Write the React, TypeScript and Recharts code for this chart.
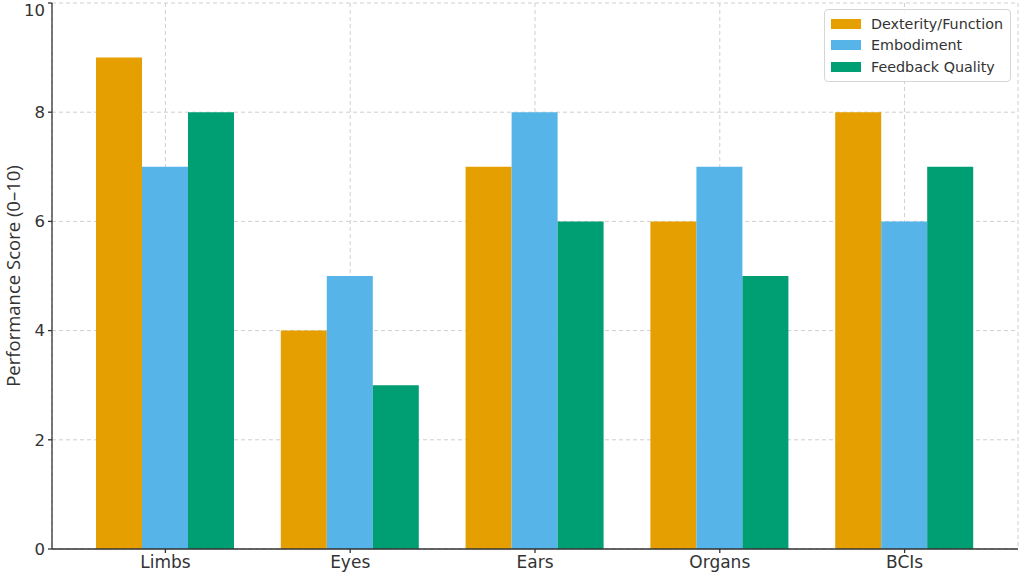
import { BarChart, Bar, XAxis, YAxis, CartesianGrid } from "recharts";

const ORANGE = "#E69F00";
const SKY    = "#56B4E9";
const GREEN  = "#009E73";
const INK    = "#333333";
const GRID   = "#cfcfcf";
const FONT   = "'DejaVu Sans', sans-serif";

const categories = ["Limbs", "Eyes", "Ears", "Organs", "BCIs"];
const dexterity   = [9, 4, 7, 6, 8];
const embodiment  = [7, 5, 8, 7, 6];
const feedback    = [8, 3, 6, 5, 7];
const yTicks      = [0, 2, 4, 6, 8, 10];

const series = [
  { key: "dexterity",  name: "Dexterity/Function", color: ORANGE },
  { key: "embodiment", name: "Embodiment",         color: SKY },
  { key: "feedback",   name: "Feedback Quality",   color: GREEN },
];

const data = categories.map((c, i) => ({
  category: c,
  dexterity: dexterity[i],
  embodiment: embodiment[i],
  feedback: feedback[i],
}));

function LegendBox() {
  return (
    <div style={{
      position: "absolute",
      left: 824,
      top: 9,
      width: 187,
      boxSizing: "border-box",
      background: "rgba(255,255,255,0.85)",
      border: "1px solid #d6d6d6",
      borderRadius: 4,
      padding: "3px 0 3px 6px",
      fontFamily: FONT,
      fontSize: 14.3,
      color: INK,
    }}>
      {series.map((s) => (
        <div key={s.key} style={{ display: "flex", alignItems: "center", height: 21.5 }}>
          <span style={{ width: 30, height: 10, background: s.color, marginRight: 10, display: "inline-block" }} />
          <span>{s.name}</span>
        </div>
      ))}
    </div>
  );
}

export default function App() {
  return (
    <div style={{ position: "absolute", left: 0, top: 0, width: 1024, height: 573, background: "#fff" }}>
      <BarChart
        width={1024}
        height={573}
        data={data}
        margin={{ top: 3, right: 6, left: 0, bottom: 0 }}
        barGap={0}
        barCategoryGap={23}
      >
        <CartesianGrid stroke={GRID} strokeDasharray="4 3" />
        <XAxis
          dataKey="category"
          padding={{ left: 21, right: 21 }}
          height={24}
          tick={{ fill: INK, fontSize: 17, fontFamily: FONT }}
          tickSize={4}
          tickMargin={3}
          stroke={INK}
          strokeWidth={1.3}
        />
        <YAxis
          domain={[0, 10]}
          ticks={yTicks}
          width={52}
          tick={{ fill: INK, fontSize: 16.5, fontFamily: FONT }}
          tickSize={4}
          tickMargin={3}
          stroke={INK}
          strokeWidth={1.3}
          label={{ value: "Performance Score (0–10)", angle: -90, position: "center", dx: -13, dy: 0, fill: INK, fontSize: 18.5, fontFamily: "'Open Sans', sans-serif" }}
        />
        {series.map((s) => (
          <Bar key={s.key} dataKey={s.key} name={s.name} fill={s.color} isAnimationActive={false} />
        ))}
      </BarChart>
      <LegendBox />
    </div>
  );
}
